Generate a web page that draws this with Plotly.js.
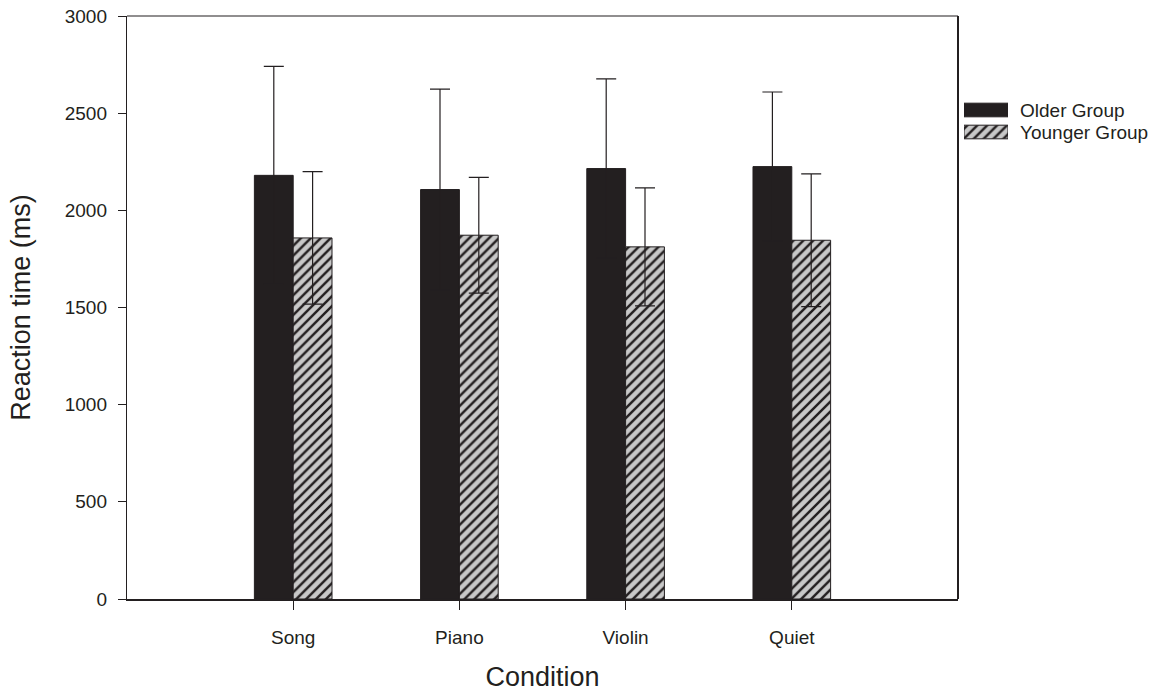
<!DOCTYPE html>
<html>
<head>
<meta charset="utf-8">
<script src="https://cdn.plot.ly/plotly-3.0.1.min.js"></script>
<style>
  html, body { margin: 0; padding: 0; background: #ffffff; }
  #chart { width: 1159px; height: 696px; }
</style>
</head>
<body>
<div id="chart"></div>
<script>
// Mean reaction time per listening condition, with error bars
const conditions = ["Song", "Piano", "Violin", "Quiet"];

const olderName = "Older Group";
const olderMean = [2180, 2107, 2215, 2225];
const olderErr  = [561, 517, 461, 384];

const youngerName = "Younger Group";
const youngerMean = [1858, 1872, 1812, 1846];
const youngerErr  = [341, 298, 304, 342];

const yTicks = [0, 500, 1000, 1500, 2000, 2500, 3000];

const ink = "#231f20";
const hatchBg = "#c8c8c8";
const font = "Liberation Sans, Arial, sans-serif";

// pixel layout of the figure
const W = 1159, H = 696;
const M = { l: 127, r: 5, t: 16, b: 97 };
const innerW = W - M.l - M.r;
const innerH = H - M.t - M.b;
const px2x = (px) => (px - M.l) / innerW;
const px2y = (py) => 1 - (py - M.t) / innerH;
const plotRight = px2x(958);

const olderMarker = { color: ink, line: { color: ink, width: 1 } };
const youngerMarker = {
  color: hatchBg,
  line: { color: ink, width: 1 },
  pattern: { shape: "/", bgcolor: hatchBg, fgcolor: ink, size: 7, solidity: 0.35 }
};

const errStyle = (vals) => ({
  type: "data", array: vals, visible: true, symmetric: true,
  color: ink, thickness: 1.2, width: 10
});

const traces = [
  {
    type: "bar", name: olderName, x: conditions, y: olderMean,
    marker: olderMarker, error_y: errStyle(olderErr)
  },
  {
    type: "bar", name: youngerName, x: conditions, y: youngerMean,
    marker: youngerMarker, error_y: errStyle(youngerErr)
  }
];

// key: wide swatches drawn as bars on a small side axis
const keyNames = [olderName, youngerName];
const keyRows = [0, 1];
keyRows.forEach((row, i) => {
  traces.push({
    type: "bar", orientation: "h", xaxis: "x2", yaxis: "y2",
    x: [1], y: [row], base: 0, width: 0.62,
    marker: i === 0 ? olderMarker : youngerMarker,
    hoverinfo: "skip", showlegend: false
  });
});

const keyRowY = [110, 132];   // row centres, px
const keyTop = keyRowY[0] - 11, keyBottom = keyRowY[1] + 11;

const layout = {
  width: W, height: H,
  margin: M,
  paper_bgcolor: "#ffffff", plot_bgcolor: "#ffffff",
  barmode: "group", bargap: 0.533, bargroupgap: 0,
  font: { family: font, color: ink, size: 19 },
  showlegend: false,
  xaxis: {
    domain: [0, plotRight],
    type: "category", range: [-1, 4],
    showline: true, linecolor: ink, linewidth: 2,
    ticks: "outside", ticklen: 9, tickcolor: ink, tickwidth: 1,
    ticklabelstandoff: 11,
    tickfont: { family: font, size: 19, color: ink },
    showgrid: false, zeroline: false, fixedrange: true,
    title: { text: "Condition", font: { family: font, size: 27, color: ink }, standoff: 20 }
  },
  yaxis: {
    range: [0, 3000], tickvals: yTicks, ticktext: yTicks.map(String),
    showline: true, linecolor: ink, linewidth: 1.2,
    ticks: "outside", ticklen: 8, tickcolor: ink, tickwidth: 1,
    ticklabelstandoff: 7,
    tickfont: { family: font, size: 19, color: ink },
    showgrid: false, zeroline: false, fixedrange: true,
    title: { text: "Reaction time (ms)", font: { family: font, size: 27, color: ink }, standoff: 26 }
  },
  xaxis2: {
    domain: [px2x(964), px2x(1008)], anchor: "y2",
    range: [0, 1], visible: false, fixedrange: true
  },
  yaxis2: {
    domain: [px2y(keyBottom), px2y(keyTop)], anchor: "x2",
    range: [1.5, -0.5], visible: false, fixedrange: true
  },
  annotations: keyNames.map((name, i) => ({
    xref: "paper", yref: "paper",
    x: px2x(1018), y: px2y(keyRowY[i]),
    xanchor: "left", yanchor: "middle",
    text: name, showarrow: false,
    font: { family: font, size: 19, color: ink }
  })),
  shapes: [
    // top edge and right edge of the plot frame
    { type: "line", xref: "paper", yref: "paper", x0: 0, x1: plotRight, y0: 1, y1: 1, line: { color: ink, width: 1.2 } },
    { type: "line", xref: "paper", yref: "paper", x0: plotRight, x1: plotRight, y0: 0, y1: 1, line: { color: ink, width: 2 } }
  ]
};

Plotly.newPlot("chart", traces, layout, { displayModeBar: false, staticPlot: true });
</script>
</body>
</html>
